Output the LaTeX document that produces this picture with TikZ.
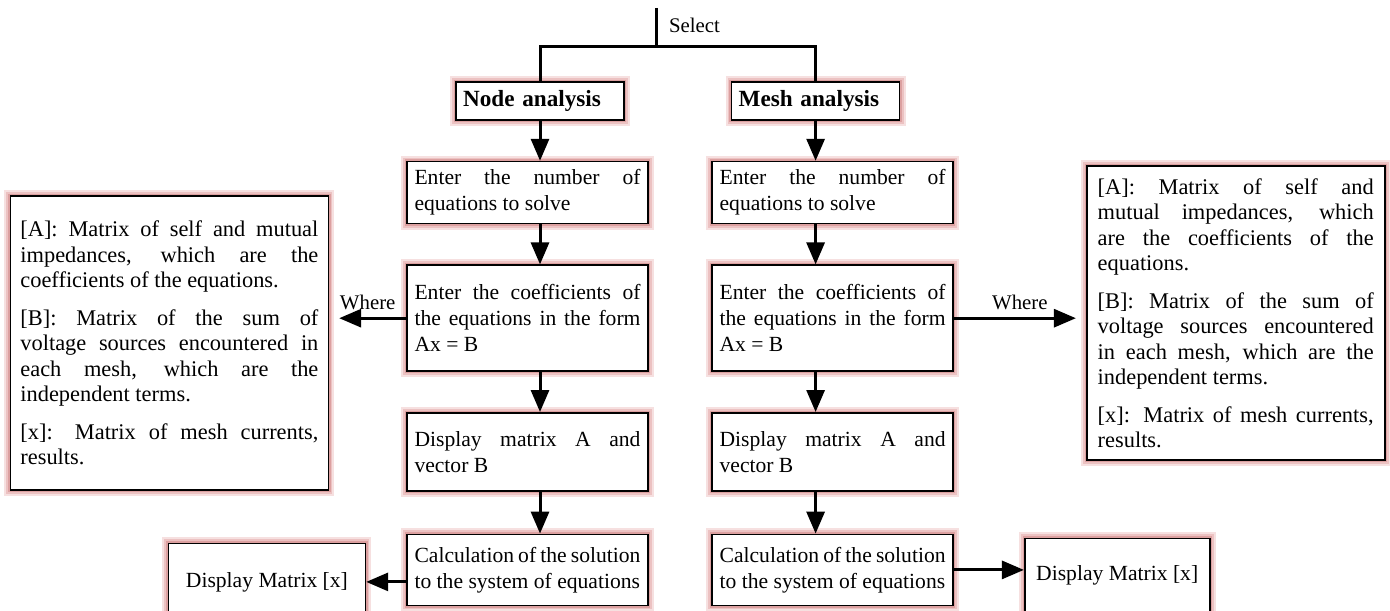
\documentclass[tikz,border=0pt]{standalone}
\usepackage{fontspec}
\setmainfont{Liberation Serif}
\usetikzlibrary{arrows.meta,positioning}

\definecolor{glowout}{RGB}{246,224,224}
\definecolor{glowmid}{RGB}{236,194,194}
\definecolor{glowin}{RGB}{220,160,160}

\begin{document}
\begin{tikzpicture}[
  node distance=20pt,
  box/.style={rectangle, draw, line width=0.8pt, fill=white,
    preaction={draw=glowout, line width=6pt},
    preaction={draw=glowmid, line width=4pt},
    preaction={draw=glowin, line width=2.2pt},
    font=\fontsize{10.8}{13}\selectfont},
  titlebox/.style={box, font=\fontsize{11.6}{13}\selectfont\bfseries, text width=77pt, align=left, minimum height=19pt, inner xsep=3.5pt},
  stepbox/.style={box, text width=113pt, align=justify, inner xsep=3.75pt},
  notebox/.style={box, align=justify, inner xsep=5pt, font=\fontsize{11.2}{12.75}\selectfont},
  outbox/.style={box, align=center},
  line/.style={-{Triangle[length=11pt,width=9pt]}, line width=1.5pt},
  link/.style={line width=1.5pt},
  lbl/.style={font=\fontsize{10.4}{12}\selectfont}
]
\useasboundingbox (0,0) rectangle (695pt,-305pt);

% choice of method
\node[titlebox] (nodeA) at (270pt,-50.5pt) {Node analysis};
\node[titlebox, right=53pt of nodeA] (meshA) {Mesh analysis};
\coordinate (top) at (328pt,-4pt);
\coordinate (split) at (328pt,-23.5pt);
\node[lbl, anchor=west] (sel) at (331pt,-12.5pt) {Select};

% node analysis column
\node[stepbox, minimum height=31pt, below=20pt of nodeA, xshift=-6.25pt] (numL) {Enter the number of\linebreak equations to solve};
\node[stepbox, minimum height=53pt, below=20pt of numL] (coefL) {Enter the coefficients of\linebreak the equations in the form\linebreak Ax = B};
\node[stepbox, minimum height=39pt, below=20pt of coefL] (showL) {Display matrix A and\linebreak vector B};
\node[stepbox, minimum height=35.5pt, below=21pt of showL] (calcL) {Calculation of the solution\linebreak to the system of equations};

% mesh analysis column
\node[stepbox, minimum height=31pt, below=20pt of meshA, xshift=8.5pt] (numR) {Enter the number of\linebreak equations to solve};
\node[stepbox, minimum height=53pt, below=20pt of numR] (coefR) {Enter the coefficients of\linebreak the equations in the form\linebreak Ax = B};
\node[stepbox, minimum height=39pt, below=20pt of coefR] (showR) {Display matrix A and\linebreak vector B};
\node[stepbox, minimum height=35.5pt, below=21pt of showR] (calcR) {Calculation of the solution\linebreak to the system of equations};

% legends
\node[notebox, text width=149pt, minimum height=147pt, left=38.5pt of coefL, yshift=-12.5pt] (whereL) {[A]: Matrix of self and mutual\linebreak impedances, which are the\linebreak coefficients of the equations.\par\vspace{6pt}
[B]: Matrix of the sum of\linebreak voltage sources encountered in\linebreak each mesh, which are the\linebreak independent terms.\par\vspace{6pt}
[x]: Matrix of mesh currents,\linebreak results.};
\node[notebox, text width=138pt, inner xsep=5.5pt, minimum height=147pt, right=66pt of coefR, yshift=2.5pt] (whereR) {[A]: Matrix of self and\linebreak mutual impedances, which\linebreak are the coefficients of the\linebreak equations.\par\vspace{6pt}
[B]: Matrix of the sum of\linebreak voltage sources encountered\linebreak in each mesh, which are the\linebreak independent terms.\par\vspace{6pt}
[x]: Matrix of mesh currents,\linebreak results.};

% results
\node[outbox, minimum width=98.5pt, minimum height=38.5pt, left=20pt of calcL, yshift=-6pt] (resL) {Display Matrix [x]};
\node[outbox, minimum width=92.5pt, minimum height=36.5pt, right=35pt of calcR, yshift=-2.5pt] (resR) {Display Matrix [x]};

\draw[link] (top) -- (split);
\draw[link] (nodeA.north) |- (split) -| (meshA.north);

\draw[line] (nodeA.south) -- (nodeA.south |- numL.north);
\draw[line] (numL.south -| nodeA) -- (coefL.north -| nodeA);
\draw[line] (coefL.south -| nodeA) -- (showL.north -| nodeA);
\draw[line] (showL.south -| nodeA) -- (calcL.north -| nodeA);

\draw[line] (meshA.south) -- (meshA.south |- numR.north);
\draw[line] (numR.south -| meshA) -- (coefR.north -| meshA);
\draw[line] (coefR.south -| meshA) -- (showR.north -| meshA);
\draw[line] (showR.south -| meshA) -- (calcR.north -| meshA);

\draw[line, shorten >=5pt] (coefL.west) -- node[lbl, above] {Where} (whereL.east |- coefL.west);
\draw[line, shorten >=5pt] (coefR.east) -- node[lbl, above] {Where} (whereR.west |- coefR.east);
\draw[line] (calcL.west |- resL) -- (resL.east);
\draw[line] (calcR.east) -- (resR.west |- calcR.east);
\end{tikzpicture}
\end{document}
